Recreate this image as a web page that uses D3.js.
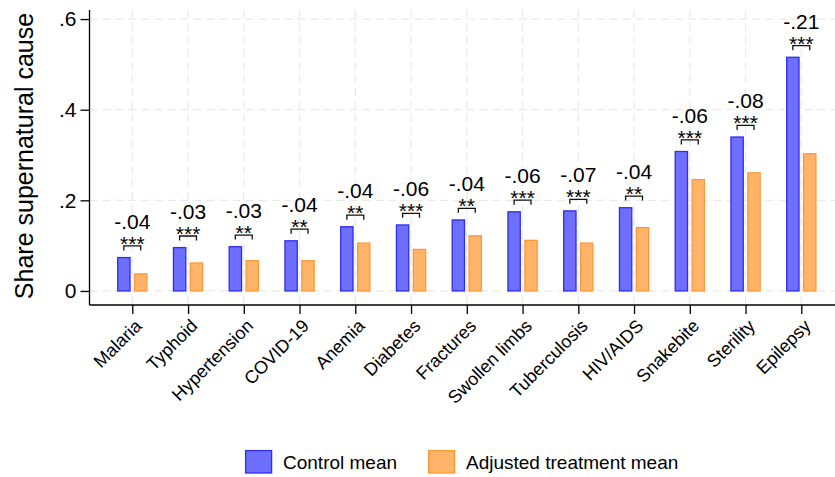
<!DOCTYPE html>
<html>
<head>
<meta charset="utf-8">
<script src="https://cdn.jsdelivr.net/npm/d3@7"></script>
<style>
  html, body { margin: 0; padding: 0; background: #fff; }
  svg { display: block; }
  svg text { font-family: "Liberation Sans", Arial, Helvetica, sans-serif; }
</style>
</head>
<body>
<svg id="chart" width="835" height="477"></svg>
<script>
// ---- Data ----
const categories = ["Malaria", "Typhoid", "Hypertension", "COVID-19", "Anemia", "Diabetes", "Fractures",
  "Swollen limbs", "Tuberculosis", "HIV/AIDS", "Snakebite", "Sterility", "Epilepsy"];
const controlMean = [0.075, 0.097, 0.099, 0.112, 0.143, 0.147, 0.158, 0.176, 0.178, 0.185, 0.309, 0.341, 0.517];
const treatmentMean = [0.039, 0.063, 0.068, 0.068, 0.107, 0.093, 0.123, 0.113, 0.107, 0.141, 0.247, 0.262, 0.304];
const diffLabels = ["-.04", "-.03", "-.03", "-.04", "-.04", "-.06", "-.04", "-.06", "-.07", "-.04", "-.06", "-.08", "-.21"];
const stars = ["***", "***", "**", "**", "**", "***", "**", "***", "***", "**", "***", "***", "***"];
const yTicks = [0, 0.2, 0.4, 0.6];
const yTickLabels = ["0", ".2", ".4", ".6"];
const seriesNames = ["Control mean", "Adjusted treatment mean"];
const yTitle = "Share supernatural cause";

// ---- Styles ----
const fills = ["#6e6eff", "#ffb469"];
const strokes = ["#2d2df5", "#ff9833"];
const gridColor = "#e9e9e9";

const svg = d3.select("#chart");

// Scales
const x = d3.scalePoint().domain(categories).range([132.3, 801.3]);
const inner = d3.scaleBand().domain([0, 1]).range([-15.2, 15.2]).paddingInner(0.2);
const y = d3.scaleLinear().domain([-0.031, 0.62]).range([305, 10]);

const plotLeft = 89.5, plotRight = 835;

// Gridlines
const grid = svg.append("g");
grid.selectAll("line.h").data(yTicks).join("line")
  .attr("x1", plotLeft).attr("x2", plotRight)
  .attr("y1", d => y(d)).attr("y2", d => y(d))
  .attr("stroke", gridColor).attr("stroke-width", 1.2).attr("stroke-dasharray", "8,5");
grid.selectAll("line.v").data(categories).join("line")
  .attr("x1", d => x(d)).attr("x2", d => x(d))
  .attr("y1", y.range()[1]).attr("y2", y.range()[0])
  .attr("stroke", gridColor).attr("stroke-width", 1.2).attr("stroke-dasharray", "8,5");

// Bars
const rows = categories.map((c, i) => ({c, vals: [controlMean[i], treatmentMean[i]], diff: diffLabels[i], star: stars[i]}));
const gBars = svg.append("g");
rows.forEach(r => {
  r.vals.forEach((v, k) => {
    gBars.append("rect")
      .attr("x", x(r.c) + inner(k) + 0.6)
      .attr("y", y(v) + 0.6)
      .attr("width", inner.bandwidth() - 1.2)
      .attr("height", y(0) - y(v) - 0.6)
      .attr("fill", fills[k])
      .attr("stroke", strokes[k])
      .attr("stroke-width", 1.3);
  });
});

// Annotations
const gAnn = svg.append("g");
rows.forEach(r => {
  const top = y(Math.max(r.vals[0], r.vals[1]));
  const bx1 = x(r.c) + inner(0) + inner.bandwidth() / 2;
  const bx2 = x(r.c) + inner(1) + inner.bandwidth() / 2;
  const by = top - 11;
  gAnn.append("path")
    .attr("d", `M${bx1},${by + 4.5}V${by}H${bx2}V${by + 4.5}`)
    .attr("fill", "none").attr("stroke", "#111").attr("stroke-width", 1.3);
  gAnn.append("text")
    .attr("x", x(r.c)).attr("y", by + 5)
    .attr("text-anchor", "middle").attr("font-size", 21)
    .text(r.star);
  gAnn.append("text")
    .attr("x", x(r.c)).attr("y", by - 17)
    .attr("text-anchor", "middle").attr("font-size", 21)
    .text(r.diff);
});

// Y axis
const yAxis = d3.axisLeft(y).tickValues(yTicks).tickSize(9).tickPadding(4)
  .tickFormat((d, i) => yTickLabels[i]);
const gy = svg.append("g").attr("transform", `translate(${plotLeft},0)`).call(yAxis);
gy.attr("font-family", null).attr("font-size", null);
gy.select(".domain").attr("d", `M0,${y.range()[1]}V${y.range()[0]}`).attr("stroke", "#000").attr("stroke-width", 1.3);
gy.selectAll(".tick line").attr("stroke", "#000").attr("stroke-width", 1.3);
gy.selectAll(".tick text").attr("font-size", 21).attr("fill", "#000");

// X axis
const xAxis = d3.axisBottom(x).tickSize(9).tickPadding(0);
const gx = svg.append("g").attr("transform", `translate(0,${y.range()[0]})`).call(xAxis);
gx.attr("font-family", null).attr("font-size", null);
gx.select(".domain").attr("d", `M${plotLeft},0H${plotRight}`).attr("stroke", "#000").attr("stroke-width", 1.3);
gx.selectAll(".tick line").attr("stroke", "#000").attr("stroke-width", 1.3);
gx.selectAll(".tick text")
  .attr("font-size", 18).attr("fill", "#000")
  .attr("text-anchor", "end")
  .attr("transform", "translate(1,13) rotate(-45)")
  .attr("y", 0).attr("dy", "0.71em").attr("dx", 0);

// Y title
svg.append("text")
  .attr("transform", `translate(33,156) rotate(-90)`)
  .attr("text-anchor", "middle").attr("font-size", 25)
  .text(yTitle);

// Legend
const legX = [245, 428];
const gLeg = svg.append("g");
seriesNames.forEach((name, k) => {
  gLeg.append("rect").attr("x", legX[k] + 0.6).attr("y", 450.6).attr("width", 26).attr("height", 22.4)
    .attr("fill", fills[k]).attr("stroke", strokes[k]).attr("stroke-width", 1.3);
  gLeg.append("text").attr("x", legX[k] + 38).attr("y", 469).attr("font-size", 19).text(name);
});
</script>
</body>
</html>
